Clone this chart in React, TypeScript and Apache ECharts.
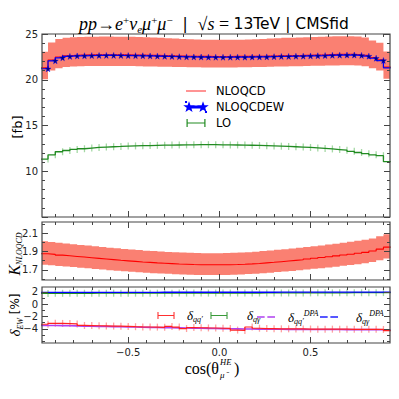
import React, { useEffect, useRef } from 'react';
import * as echarts from 'echarts';

// bin edges of the cos(theta) histogram (each value is held over (edge[k], edge[k+1]])
const binEdges = [-0.98, -0.94, -0.9, -0.86, -0.82, -0.78, -0.74, -0.7, -0.66, -0.62, -0.58, -0.54, -0.5, -0.46, -0.42, -0.38, -0.34, -0.3, -0.26, -0.22, -0.18, -0.14, -0.1, -0.06, -0.02, 0.02, 0.06, 0.1, 0.14, 0.18, 0.22, 0.26, 0.3, 0.34, 0.38, 0.42, 0.46, 0.5, 0.54, 0.58, 0.62, 0.66, 0.7, 0.74, 0.78, 0.82, 0.86, 0.9, 0.94];

const nloqcd = [21.3, 22.15, 22.48, 22.63, 22.68, 22.7, 22.72, 22.73, 22.74, 22.74, 22.73, 22.72, 22.71, 22.7, 22.68, 22.66, 22.64, 22.62, 22.6, 22.58, 22.57, 22.56, 22.55, 22.54, 22.54, 22.54, 22.55, 22.55, 22.56, 22.57, 22.58, 22.6, 22.62, 22.63, 22.65, 22.66, 22.68, 22.7, 22.72, 22.75, 22.77, 22.78, 22.78, 22.74, 22.66, 22.43, 22.18, 21.38];
const nloqcdHi = [23.05, 24.08, 24.44, 24.6, 24.65, 24.67, 24.7, 24.71, 24.72, 24.72, 24.71, 24.7, 24.69, 24.67, 24.65, 24.62, 24.58, 24.54, 24.5, 24.46, 24.42, 24.4, 24.38, 24.37, 24.36, 24.36, 24.37, 24.38, 24.4, 24.42, 24.46, 24.5, 24.54, 24.58, 24.6, 24.62, 24.64, 24.66, 24.7, 24.73, 24.75, 24.76, 24.76, 24.72, 24.63, 24.3, 24.05, 23.1];
const nloqcdLo = [20.05, 21.0, 21.25, 21.4, 21.45, 21.47, 21.5, 21.5, 21.5, 21.5, 21.5, 21.5, 21.5, 21.48, 21.46, 21.45, 21.43, 21.42, 21.4, 21.38, 21.37, 21.36, 21.35, 21.35, 21.35, 21.35, 21.35, 21.36, 21.37, 21.38, 21.4, 21.42, 21.44, 21.45, 21.47, 21.48, 21.5, 21.52, 21.54, 21.55, 21.57, 21.58, 21.58, 21.55, 21.48, 21.25, 21.02, 20.1];
const nloqcdew = [21.2, 22.07, 22.4, 22.55, 22.6, 22.62, 22.64, 22.65, 22.66, 22.66, 22.65, 22.64, 22.63, 22.62, 22.6, 22.58, 22.56, 22.54, 22.52, 22.5, 22.49, 22.48, 22.47, 22.46, 22.46, 22.46, 22.47, 22.47, 22.48, 22.49, 22.5, 22.52, 22.54, 22.55, 22.57, 22.58, 22.6, 22.62, 22.64, 22.67, 22.69, 22.7, 22.7, 22.66, 22.58, 22.35, 22.1, 21.3];
const lo = [11.33, 11.8, 12.13, 12.27, 12.38, 12.46, 12.53, 12.6, 12.64, 12.68, 12.71, 12.75, 12.77, 12.79, 12.81, 12.83, 12.85, 12.86, 12.87, 12.88, 12.89, 12.9, 12.9, 12.9, 12.89, 12.88, 12.87, 12.86, 12.84, 12.82, 12.8, 12.77, 12.74, 12.71, 12.68, 12.64, 12.6, 12.55, 12.5, 12.44, 12.37, 12.3, 12.18, 12.05, 11.92, 11.8, 11.7, 11.05];

const kFactor = [1.875, 1.868, 1.86, 1.853, 1.846, 1.839, 1.832, 1.825, 1.818, 1.811, 1.804, 1.798, 1.792, 1.786, 1.781, 1.776, 1.772, 1.768, 1.764, 1.761, 1.758, 1.756, 1.755, 1.755, 1.755, 1.756, 1.758, 1.761, 1.765, 1.77, 1.776, 1.782, 1.789, 1.796, 1.803, 1.81, 1.818, 1.826, 1.834, 1.843, 1.852, 1.861, 1.87, 1.88, 1.89, 1.905, 1.925, 1.947];
const kHi = [2.01, 2.003, 1.994, 1.986, 1.979, 1.971, 1.964, 1.956, 1.949, 1.941, 1.934, 1.927, 1.921, 1.915, 1.909, 1.904, 1.9, 1.895, 1.891, 1.888, 1.885, 1.882, 1.881, 1.881, 1.881, 1.882, 1.885, 1.888, 1.892, 1.897, 1.904, 1.91, 1.918, 1.925, 1.933, 1.94, 1.949, 1.957, 1.966, 1.976, 1.985, 1.995, 2.005, 2.015, 2.026, 2.042, 2.064, 2.087];
const kLo = [1.757, 1.75, 1.743, 1.736, 1.73, 1.723, 1.717, 1.71, 1.703, 1.697, 1.69, 1.685, 1.679, 1.673, 1.669, 1.664, 1.66, 1.657, 1.653, 1.65, 1.647, 1.645, 1.644, 1.644, 1.644, 1.645, 1.647, 1.65, 1.654, 1.658, 1.664, 1.67, 1.676, 1.683, 1.689, 1.696, 1.703, 1.711, 1.718, 1.727, 1.735, 1.744, 1.752, 1.762, 1.771, 1.785, 1.804, 1.824];

const dqq = [-3.25, -3.1, -3.12, -3.15, -3.2, -3.45, -3.47, -3.5, -3.52, -3.55, -3.56, -3.6, -3.65, -3.68, -3.7, -3.72, -3.75, -3.6, -3.72, -3.95, -3.8, -3.82, -3.85, -3.86, -3.9, -3.93, -4.2, -4.25, -3.7, -3.9, -3.95, -3.97, -4.0, -4.0, -4.02, -4.02, -4.03, -4.05, -4.05, -4.05, -4.06, -4.06, -4.07, -4.07, -4.08, -4.08, -4.1, -4.3];
const dqqDpa = [-3.45, -3.45, -3.47, -3.5, -3.52, -3.55, -3.58, -3.6, -3.62, -3.64, -3.66, -3.68, -3.7, -3.73, -3.76, -3.78, -3.8, -3.82, -3.84, -3.86, -3.88, -3.9, -3.92, -3.94, -3.96, -3.98, -4.0, -4.02, -4.03, -4.04, -4.05, -4.06, -4.07, -4.08, -4.08, -4.09, -4.1, -4.1, -4.1, -4.11, -4.11, -4.12, -4.12, -4.12, -4.13, -4.13, -4.14, -4.18];
const dqg = [1.76, 1.77, 1.77, 1.78, 1.78, 1.78, 1.78, 1.79, 1.79, 1.79, 1.79, 1.79, 1.8, 1.8, 1.8, 1.8, 1.8, 1.8, 1.81, 1.81, 1.81, 1.81, 1.81, 1.81, 1.81, 1.82, 1.82, 1.82, 1.82, 1.82, 1.83, 1.83, 1.83, 1.83, 1.84, 1.84, 1.84, 1.85, 1.85, 1.85, 1.86, 1.86, 1.87, 1.87, 1.88, 1.88, 1.89, 1.9];
const dqgDpa = [1.94, 1.94, 1.94, 1.94, 1.94, 1.94, 1.94, 1.94, 1.94, 1.94, 1.94, 1.94, 1.94, 1.94, 1.94, 1.94, 1.95, 1.95, 1.95, 1.95, 1.95, 1.95, 1.95, 1.95, 1.95, 1.95, 1.95, 1.95, 1.95, 1.95, 1.95, 1.95, 1.96, 1.96, 1.96, 1.96, 1.96, 1.96, 1.96, 1.96, 1.96, 1.96, 1.96, 1.96, 1.96, 1.96, 1.96, 1.96];

const xLabelValues = [-0.5, 0, 0.5];
const xMajorTicks = [-0.5, 0, 0.5];
const xMinorTicks = [-0.9, -0.8, -0.7, -0.6, -0.5, -0.4, -0.3, -0.2, -0.1, 0, 0.1, 0.2, 0.3, 0.4, 0.5, 0.6, 0.7, 0.8, 0.9];
const y1Labels = [10, 15, 20, 25];
const y1Major = [5, 10, 15, 20, 25];
const y1Minor = [5, 6, 7, 8, 9, 10, 11, 12, 13, 14, 15, 16, 17, 18, 19, 20, 21, 22, 23, 24, 25];
const y2Labels = [1.7, 1.9, 2.1];
const y2Major = [1.7, 1.9, 2.1];
const y2Minor = [1.6, 1.7, 1.8, 1.9, 2.0, 2.1, 2.2];
const y3Labels = [-4, -2, 0, 2];
const y3Major = [-4, -2, 0, 2];
const y3Minor = [-6, -5, -4, -3, -2, -1, 0, 1, 2];

const X_MIN = -0.973;
const X_MAX = 0.936;
const SERIF = 'Liberation Serif';
const SANS = 'DejaVu Sans';
const AX = '#444';
const STAR_SYMBOL = 'path://M50,0 L61,35 L98,35 L68,57 L79,91 L50,70 L21,91 L32,57 L2,35 L39,35 Z';

const minus = (v: number, d: number) => (v < 0 ? '\u2212' : '') + Math.abs(v).toFixed(d);

function stepData(vals: number[]) {
  const d: any[] = [{ value: [binEdges[0], vals[0]], symbol: 'none' }];
  vals.forEach((v, k) => d.push([binEdges[k + 1], v]));
  return d;
}
function tickData(vals: number[]) {
  return vals.map((v, k) => [binEdges[k + 1], v]);
}
function band(name: string, loV: number[], hiV: number[], color: string, ai: number, mid: number) {
  return {
    type: 'custom', name, xAxisIndex: ai, yAxisIndex: ai, silent: true, z: 1,
    data: [[0, mid]],
    renderItem: (_p: any, api: any) => {
      const top: number[][] = [];
      const bot: number[][] = [];
      for (let k = 0; k < loV.length; k++) {
        const xl = Math.max(binEdges[k], X_MIN);
        const xr = Math.min(binEdges[k + 1], X_MAX);
        if (xr <= xl) continue;
        top.push(api.coord([xl, hiV[k]]), api.coord([xr, hiV[k]]));
        bot.push(api.coord([xl, loV[k]]), api.coord([xr, loV[k]]));
      }
      return { type: 'polygon', shape: { points: top.concat(bot.reverse()) }, style: { fill: color } };
    },
  };
}

function axis(gridIndex: number, position: string, min: number, max: number, ticks: number[], len: number, labels: number[] | null, fmt?: (v: number) => string) {
  return {
    type: 'value', gridIndex, position, min, max, z: 10,
    axisLine: { show: false, onZero: false },
    splitLine: { show: false },
    axisTick: { show: true, inside: true, length: len, customValues: ticks, lineStyle: { color: AX, width: 1 } },
    axisLabel: labels
      ? { show: true, customValues: labels, formatter: fmt, fontSize: 10, color: '#222', fontFamily: SANS, margin: 4 }
      : { show: false },
  };
}

const panelDefs = [
  { top: 34, height: 183, yMin: 5, yMax: 25, yMinor: y1Minor, yMajor: y1Major, yLabels: y1Labels, fmt: (v: number) => String(v) },
  { top: 222, height: 58, yMin: 1.59, yMax: 2.22, yMinor: y2Minor, yMajor: y2Major, yLabels: y2Labels, fmt: (v: number) => v.toFixed(1) },
  { top: 287, height: 56, yMin: -6.3, yMax: 2.8, yMinor: y3Minor, yMajor: y3Major, yLabels: y3Labels, fmt: (v: number) => minus(v, 0) },
];

// legend icon geometry (drawn in a 20x10 box; tiny corner specks fix the box)
const SPECKS = 'M0,0h0.05v0.05h-0.05z M19.95,9.95h0.05v0.05h-0.05z';
function starPath(cx: number, cy: number, R: number, r: number) {
  let d = '';
  for (let i = 0; i < 10; i++) {
    const a = (-90 + 36 * i) * Math.PI / 180;
    const rr = i % 2 === 0 ? R : r;
    d += (i === 0 ? 'M' : 'L') + (cx + rr * Math.cos(a)).toFixed(2) + ',' + (cy + rr * Math.sin(a)).toFixed(2);
  }
  return d + 'Z';
}
const ICON_LINE = 'path://' + SPECKS + ' M0,4.4h20v1.2h-20z';
const ICON_STAR = 'path://' + SPECKS + ' M2,4.5h16v1h-16z ' + starPath(3, 5.2, 3, 1.2) + ' ' + starPath(17, 5.2, 3, 1.2);
const ICON_ERR = 'path://' + SPECKS + ' M0.5,1h1.2v8h-1.2z M0.5,4.4h19v1.2h-19z M18.3,1h1.2v8h-1.2z';
const ICON_DASH = 'path://' + SPECKS + ' M0,4.3h8.5v1.4h-8.5z M11.5,4.3h8.5v1.4h-8.5z';

const legendRich = {
  d: { fontFamily: SERIF, fontStyle: 'italic', fontSize: 13, lineHeight: 16, color: '#000' },
  s: { fontFamily: SERIF, fontStyle: 'italic', fontSize: 8, lineHeight: 8, verticalAlign: 'bottom', color: '#000' },
  p: { fontFamily: SERIF, fontStyle: 'italic', fontSize: 8, lineHeight: 8, verticalAlign: 'top', color: '#000' },
};
const legendLabels: Record<string, string> = {
  "δqq'": "{d|δ}{s|qq′}",
  'δqγ': '{d|δ}{s|qγ}',
  "δqq'DPA": "{d|δ}{s|qq′}{p|DPA}",
  'δqγDPA': '{d|δ}{s|qγ}{p|DPA}',
};
function smallLegend(name: string, left: number, width: number, pad: number, icon: string) {
  return {
    left, top: 304, itemWidth: width, itemHeight: 9, selectedMode: false,
    data: [{ name, icon }],
    formatter: (n: string) => legendLabels[n],
    textStyle: { rich: legendRich, padding: [0, 0, 0, pad] },
  };
}

export default function App() {
  const ref = useRef<HTMLDivElement>(null);
  useEffect(() => {
    if (!ref.current) return;
    const chart = echarts.init(ref.current, null, { renderer: 'svg' });
    const grids: any[] = [];
    const xAxes: any[] = [];
    const yAxes: any[] = [];
    panelDefs.forEach((p, i) => {
      const g = { left: 42, width: 348, top: p.top, height: p.height };
      grids.push({ ...g, show: false });
      grids.push({ ...g, show: true, borderColor: AX, borderWidth: 1.2, backgroundColor: 'rgba(0,0,0,0)', z: 10 });
      const gm = 2 * i;
      const go = 2 * i + 1;
      const fx = (v: number) => minus(v, 1);
      xAxes.push(axis(gm, 'bottom', X_MIN, X_MAX, xMinorTicks, 3, i === 2 ? xLabelValues : null, fx));
      xAxes.push(axis(gm, 'top', X_MIN, X_MAX, xMinorTicks, 3, null));
      xAxes.push(axis(go, 'bottom', X_MIN, X_MAX, xMajorTicks, 6, null));
      xAxes.push(axis(go, 'top', X_MIN, X_MAX, xMajorTicks, 6, null));
      yAxes.push(axis(gm, 'left', p.yMin, p.yMax, p.yMinor, 3, p.yLabels, p.fmt));
      yAxes.push(axis(gm, 'right', p.yMin, p.yMax, p.yMinor, 3, null));
      yAxes.push(axis(go, 'left', p.yMin, p.yMax, p.yMajor, 6, null));
      yAxes.push(axis(go, 'right', p.yMin, p.yMax, p.yMajor, 6, null));
    });

    const series: any[] = [
      band('NLOQCD band', nloqcdLo, nloqcdHi, '#fa8072', 0, 22),
      { type: 'scatter', name: 'LO ticks', xAxisIndex: 0, yAxisIndex: 0, data: tickData(lo), symbol: 'rect', symbolSize: [1.3, 7], itemStyle: { color: '#8fd08f' }, z: 2, silent: true },
      { type: 'line', name: 'LO', xAxisIndex: 0, yAxisIndex: 0, data: stepData(lo), step: 'start', symbol: 'none', lineStyle: { color: '#228b22', width: 1.3 }, itemStyle: { color: '#228b22' }, z: 3 },
      { type: 'line', name: 'NLOQCD', xAxisIndex: 0, yAxisIndex: 0, data: stepData(nloqcd), step: 'start', symbol: 'none', lineStyle: { color: '#ff0000', width: 1.1 }, itemStyle: { color: '#ff2a2a' }, z: 3 },
      { type: 'line', name: 'NLOQCDEW', xAxisIndex: 0, yAxisIndex: 0, data: stepData(nloqcdew), step: 'start', symbol: STAR_SYMBOL, symbolSize: 6, showAllSymbol: true, lineStyle: { color: '#0000ff', width: 1.2 }, itemStyle: { color: '#000080', borderColor: '#0000ff', borderWidth: 0.4 }, z: 4 },

      band('K band', kLo, kHi, '#fa8072', 4, 1.8),
      { type: 'line', name: 'K', xAxisIndex: 4, yAxisIndex: 4, data: stepData(kFactor), step: 'start', symbol: 'none', lineStyle: { color: '#ff0000', width: 1.1 }, z: 3 },

      { type: 'scatter', name: 'dqq ticks', xAxisIndex: 8, yAxisIndex: 8, data: tickData(dqq), symbol: 'rect', symbolSize: [1.3, 7], itemStyle: { color: '#ff8a8a' }, z: 2, silent: true },
      { type: 'scatter', name: 'dqg ticks', xAxisIndex: 8, yAxisIndex: 8, data: tickData(dqg), symbol: 'rect', symbolSize: [1.3, 7], itemStyle: { color: '#8fd08f' }, z: 2, silent: true },
      { type: 'line', name: "δqq'DPA", xAxisIndex: 8, yAxisIndex: 8, data: stepData(dqqDpa), step: 'start', symbol: 'none', lineStyle: { color: '#b040f0', width: 1.6 }, itemStyle: { color: '#b040f0' }, z: 3 },
      { type: 'line', name: "δqq'", xAxisIndex: 8, yAxisIndex: 8, data: stepData(dqq), step: 'start', symbol: 'none', lineStyle: { color: '#ff2020', width: 1.2 }, itemStyle: { color: '#ff3030' }, z: 4 },
      { type: 'line', name: 'δqγ', xAxisIndex: 8, yAxisIndex: 8, data: stepData(dqg), step: 'start', symbol: 'none', lineStyle: { color: '#228b22', width: 1.2 }, itemStyle: { color: '#3a9a3a' }, z: 3 },
      { type: 'line', name: 'δqγDPA', xAxisIndex: 8, yAxisIndex: 8, data: stepData(dqgDpa), step: 'start', symbol: 'none', lineStyle: { color: '#0000ff', width: 1.3 }, itemStyle: { color: '#2020ff' }, z: 4 },
    ];

    const titleRich = {
      m: { fontFamily: SERIF, fontStyle: 'italic', fontSize: 18, lineHeight: 20, fill: '#000' },
      r: { fontFamily: SERIF, fontSize: 18, lineHeight: 20, fill: '#000' },
      p: { fontFamily: SERIF, fontSize: 11, lineHeight: 10, verticalAlign: 'top', fill: '#000' },
      b: { fontFamily: SERIF, fontStyle: 'italic', fontSize: 11, lineHeight: 10, verticalAlign: 'bottom', fill: '#000' },
      t: { fontFamily: SANS, fontSize: 15.5, lineHeight: 20, fill: '#000' },
    };

    const txt = (x: number, y: number, text: string, extra: any = {}, rotation = 0) => ({
      type: 'text', x, y, rotation, silent: true, z: 20,
      style: { text, align: 'center', verticalAlign: 'middle', textAlign: 'center', textVerticalAlign: 'middle', fill: '#000', ...extra },
    });

    chart.setOption({
      animation: false,
      backgroundColor: '#fff',
      grid: grids,
      xAxis: xAxes,
      yAxis: yAxes,
      legend: [
        {
          left: 180, top: 79, orient: 'vertical', itemWidth: 20, itemHeight: 10, itemGap: 2, selectedMode: false,
          data: [{ name: 'NLOQCD', icon: ICON_LINE }, { name: 'NLOQCDEW', icon: ICON_STAR }, { name: 'LO', icon: ICON_ERR }],
          textStyle: { fontFamily: SANS, fontSize: 11.5, color: '#000', lineHeight: 14, padding: [0, 0, 0, 5] },
        },
        smallLegend("δqq'", 152, 18, 7, ICON_ERR),
        smallLegend('δqγ', 205, 22, 12, ICON_ERR),
        smallLegend("δqq'DPA", 252, 26, 4, ICON_DASH),
        smallLegend('δqγDPA', 315, 22, 11, ICON_DASH),
      ],
      graphic: [
        txt(214, 24, '{m|pp}{r|→}{m|e}{p|+}{m|ν}{b|e}{m|μ}{p|+}{m|μ}{p|−}{t|  |  }{r|√}{m|s}{r| = }{t|13TeV | CMSfid}', { rich: titleRich }),
        txt(17, 127, '[fb]', { fontFamily: SANS, fontSize: 13 }, Math.PI / 2),
        txt(14, 254, '{k|K}{s|NLOQCD}', {
          rich: {
            k: { fontFamily: SERIF, fontStyle: 'italic', fontSize: 16, lineHeight: 18, fill: '#000' },
            s: { fontFamily: SERIF, fontStyle: 'italic', fontSize: 8, lineHeight: 9, verticalAlign: 'bottom', fill: '#000' },
          },
        }, Math.PI / 2),
        txt(15, 315, '{d|δ}{s|EW}{t| [%]}', {
          rich: {
            d: { fontFamily: SERIF, fontStyle: 'italic', fontSize: 15, lineHeight: 18, fill: '#000' },
            s: { fontFamily: SERIF, fontStyle: 'italic', fontSize: 8, lineHeight: 9, verticalAlign: 'bottom', fill: '#000' },
            t: { fontFamily: SANS, fontSize: 12, lineHeight: 18, fill: '#000' },
          },
        }, Math.PI / 2),
        txt(219, 368, 'cos(θ', { fontFamily: SERIF, fontSize: 16, align: 'right', textAlign: 'right' }),
        txt(220, 362, 'HE', { fontFamily: SERIF, fontStyle: 'italic', fontSize: 8.5, align: 'left', textAlign: 'left' }),
        txt(220, 375, 'μ⁻', { fontFamily: SERIF, fontStyle: 'italic', fontSize: 9, align: 'left', textAlign: 'left' }),
        txt(234, 368, ')', { fontFamily: SERIF, fontSize: 16, align: 'left', textAlign: 'left' }),
      ],
      series,
    });
    return () => chart.dispose();
  }, []);
  return <div ref={ref} style={{ position: 'absolute', left: 0, top: 0, width: 399, height: 399 }} />;
}
